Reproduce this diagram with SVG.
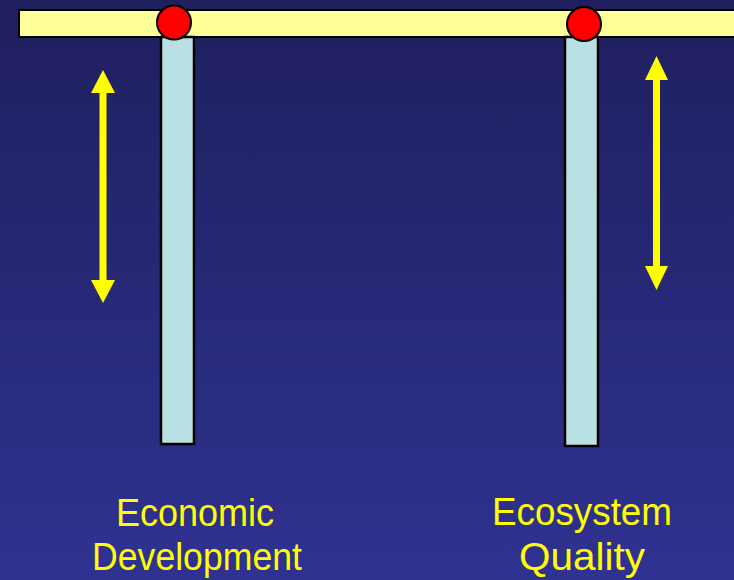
<svg xmlns="http://www.w3.org/2000/svg" width="734" height="580" viewBox="0 0 734 580">
  <defs>
    <linearGradient id="bg" x1="0" y1="0" x2="0" y2="1">
      <stop offset="0" stop-color="#1f1f5e"/>
      <stop offset="1" stop-color="#2f3290"/>
    </linearGradient>
    <style>
      .bar { fill: #ffff99; stroke: #000; stroke-width: 2; }
      .pillar { fill: #b9e0e3; stroke: #000; stroke-width: 2.5; }
      .pivot { fill: #ff0000; stroke: #000; stroke-width: 2; }
      .arrow { fill: #ffff00; }
      .label { fill: #ffff00; font-family: "Comic Sans MS", "Liberation Sans", "DejaVu Sans", sans-serif; font-size: 38px; text-anchor: middle; }
    </style>
  </defs>
  <rect x="0" y="0" width="734" height="580" fill="url(#bg)"/>

  <g id="beam">
    <rect class="bar" x="19" y="10" width="720" height="27"/>
  </g>

  <g id="pillar-economic">
    <rect class="pillar" x="161" y="37" width="33" height="407"/>
  </g>
  <g id="pillar-ecosystem">
    <rect class="pillar" x="565" y="37" width="33" height="409"/>
  </g>

  <g id="pivot-economic">
    <circle class="pivot" cx="174" cy="22.5" r="17"/>
  </g>
  <g id="pivot-ecosystem">
    <circle class="pivot" cx="584" cy="24" r="17"/>
  </g>

  <g id="connectors">
    <polygon class="arrow" points="103,70 115,93 106.5,93 106.5,280 115,280 103,303 91,280 99.5,280 99.5,93 91,93"/>
    <polygon class="arrow" points="656.5,56 668,80 660,80 660,266 668,266 656.5,290 645,266 653,266 653,80 645,80"/>
  </g>

  <g id="label-economic">
    <text class="label" x="195" y="526" textLength="158" lengthAdjust="spacingAndGlyphs">Economic</text>
    <text class="label" x="197" y="570" textLength="210" lengthAdjust="spacingAndGlyphs">Development</text>
  </g>
  <g id="label-ecosystem">
    <text class="label" x="582" y="525" textLength="180" lengthAdjust="spacingAndGlyphs">Ecosystem</text>
    <text class="label" x="582" y="570" textLength="126" lengthAdjust="spacingAndGlyphs">Quality</text>
  </g>
</svg>
